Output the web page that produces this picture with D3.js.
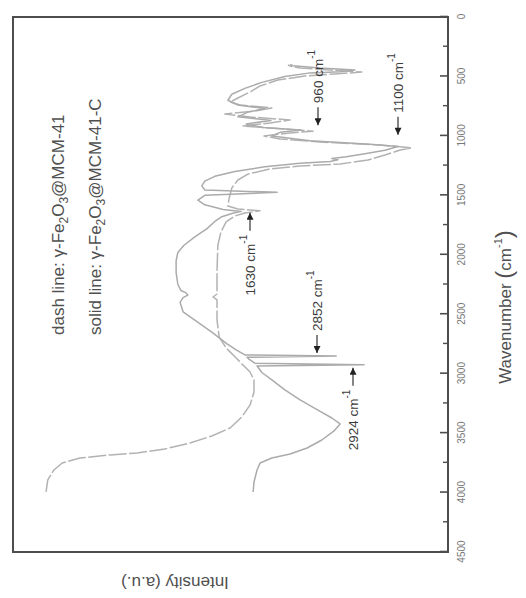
<!DOCTYPE html>
<html>
<head>
<meta charset="utf-8">
<script src="https://cdn.jsdelivr.net/npm/d3@7"></script>
<style>
  body { margin: 0; background: #fff; }
  svg { display: block; }
  text { font-family: "Liberation Sans", Arial, sans-serif; }
</style>
</head>
<body>
<script>
// FTIR spectra, wavenumber (cm^-1) vs. intensity (a.u.)
const majorTicks = [0, 500, 1000, 1500, 2000, 2500, 3000, 3500, 4000, 4500];
const minorTicks = [250, 750, 1250, 1750, 2250, 2750, 3250, 3750, 4250];

// γ-Fe2O3@MCM-41 (dashed)
const dashWn = [3995, 3894, 3810, 3751, 3709, 3684, 3667, 3633, 3583, 3524, 3457, 3364, 3263, 3154, 3053,
  2986, 2935, 2868, 2784, 2692, 2549, 2380, 2355, 2330, 2128, 1918, 1808, 1724, 1674, 1649, 1630, 1615,
  1590, 1522, 1438, 1371, 1321, 1278, 1253, 1236, 1203, 1161, 1119, 1100, 1077, 1051, 1026, 1001, 976,
  960, 934, 917, 892, 866, 841, 816, 791, 765, 740, 715, 681, 631, 580, 530, 496, 479, 463, 446, 429, 412, 404];
const dashVal = [92.4, 92.0, 90.6, 88.7, 84.6, 77.7, 71.5, 65.1, 59.3, 54.3, 50.1, 47.4, 45.5, 44.6, 44.6,
  45.5, 46.9, 48.7, 51.0, 52.6, 53.1, 53.1, 54.0, 53.1, 53.1, 52.9, 52.2, 51.0, 49.0, 46.7, 43.2, 48.3,
  50.6, 50.3, 49.7, 48.3, 46.0, 40.9, 34.0, 24.8, 18.4, 14.5, 11.0, 8.3, 15.6, 29.4, 38.6, 42.3, 36.3,
  31.0, 40.9, 47.1, 40.9, 36.3, 45.5, 51.3, 44.4, 40.5, 47.8, 50.1, 48.3, 45.5, 43.2, 39.1, 32.9, 26.0, 19.8, 27.1, 34.0, 36.3, 36.8];

// γ-Fe2O3@MCM-41-C (solid)
const solidWn = [3995, 3911, 3810, 3751, 3709, 3676, 3625, 3558, 3482, 3423, 3373, 3306, 3221, 3137, 3053,
  2990, 2944, 2935, 2924, 2912, 2880, 2862, 2852, 2842, 2800, 2750, 2650, 2550, 2480, 2400, 2360, 2340,
  2320, 2300, 2250, 2150, 2050, 1980, 1920, 1850, 1780, 1720, 1680, 1650, 1635, 1620, 1580, 1540, 1500,
  1475, 1455, 1420, 1380, 1340, 1300, 1260, 1230, 1215, 1200, 1190, 1175, 1150, 1120, 1090, 1070, 1040,
  1000, 970, 950, 930, 900, 870, 840, 800, 770, 740, 700, 650, 600, 550, 500, 470, 460, 445, 430, 410, 400];
const solidVal = [44.8, 44.6, 43.9, 43.2, 40.5, 36.3, 32.4, 29.0, 26.2, 24.8, 26.7, 29.9, 34.0, 37.5, 40.5,
  42.8, 43.7, 43.9, 19.3, 44.4, 45.7, 46.2, 25.7, 46.7, 48.7, 50.8, 54.3, 58.2, 60.9, 61.6, 60.9, 59.8,
  60.2, 61.4, 62.1, 62.5, 62.5, 62.1, 60.7, 58.2, 55.4, 53.6, 52.0, 49.5, 47.5, 51.7, 55.9, 57.5, 55.9,
  39.3, 55.9, 56.6, 55.9, 53.6, 49.0, 42.1, 34.0, 27.1, 25.3, 26.7, 23.4, 19.1, 14.5, 11.5, 17.9, 31.7,
  40.5, 38.6, 33.8, 42.5, 46.4, 40.7, 48.3, 46.0, 42.1, 48.3, 50.6, 49.7, 46.7, 42.8, 37.5, 31.7, 24.8, 21.4, 29.4, 35.6, 36.3];

// marked absorption bands
const bandLabels = [960, 1100, 1630, 2852, 2924];

const W = 526, H = 598;
const svg = d3.select("body").append("svg").attr("width", W).attr("height", H);

// the figure is laid out upright and then turned a quarter turn counter-clockwise
const fig = svg.append("g").attr("transform", `translate(0,${H}) rotate(-90)`);

const plotL = 46, plotR = 581, plotT = 13, plotB = 448;
const x = d3.scaleLinear().domain([4500, 0]).range([plotL, plotR]);
const y = d3.scaleLinear().domain([0, 100]).range([plotB, plotT]);

const axisColor = "#4d4d4d";
const textColor = "#505050";

// spectra
const line = d3.line().x(d => x(d[0])).y(d => y(d[1]));
fig.append("path")
  .datum(d3.zip(dashWn, dashVal))
  .attr("d", line)
  .attr("fill", "none")
  .attr("stroke", "#b2b2b2")
  .attr("stroke-width", 1.5)
  .attr("stroke-dasharray", "18,2.5")
  .attr("stroke-linejoin", "round");
fig.append("path")
  .datum(d3.zip(solidWn, solidVal))
  .attr("d", line)
  .attr("fill", "none")
  .attr("stroke", "#ababab")
  .attr("stroke-width", 1.5)
  .attr("stroke-linejoin", "round");

// frame
fig.append("rect")
  .attr("x", plotL).attr("y", plotT)
  .attr("width", plotR - plotL).attr("height", plotB - plotT)
  .attr("fill", "none").attr("stroke", axisColor).attr("stroke-width", 2);

// wavenumber axis, ticks pointing inward
const axMajor = fig.append("g").attr("transform", `translate(0,${plotB})`)
  .call(d3.axisBottom(x).tickValues(majorTicks).tickSize(-8).tickPadding(10).tickFormat(d3.format("d")));
axMajor.select(".domain").remove();
axMajor.selectAll("line").attr("stroke", axisColor).attr("stroke-width", 1.6);
axMajor.selectAll("text").attr("fill", "#777").attr("font-size", 10)
  .attr("font-family", "'Liberation Sans', Arial, sans-serif");

const axMinor = fig.append("g").attr("transform", `translate(0,${plotB})`)
  .call(d3.axisBottom(x).tickValues(minorTicks).tickSize(-5).tickFormat(""));
axMinor.select(".domain").remove();
axMinor.selectAll("line").attr("stroke", axisColor).attr("stroke-width", 1.4);

// axis titles
const xt = fig.append("text")
  .attr("x", 291).attr("y", 511)
  .attr("text-anchor", "middle")
  .attr("fill", textColor).attr("font-size", 17);
xt.append("tspan").text("Wavenumber ");
xt.append("tspan").attr("font-size", 24).attr("dy", 1).text("(");
xt.append("tspan").attr("dy", -1).text("cm");
xt.append("tspan").attr("font-size", 11).attr("dy", -9).text("-1");
xt.append("tspan").attr("font-size", 24).attr("dy", 10).text(")");

fig.append("text")
  .attr("transform", "translate(15,175) rotate(-90)")
  .attr("text-anchor", "middle")
  .attr("dy", "0.35em")
  .attr("fill", textColor).attr("font-size", 17)
  .text("Intensity (a.u.)");

// legend
function legendLine(prefix, suffix, v) {
  const t = fig.append("text").attr("x", 263).attr("y", v)
    .attr("fill", textColor).attr("font-size", 17);
  t.append("tspan").text(prefix + "γ-Fe");
  t.append("tspan").attr("font-size", 12).attr("dy", 4).text("2");
  t.append("tspan").attr("dy", -4).text("O");
  t.append("tspan").attr("font-size", 12).attr("dy", 4).text("3");
  t.append("tspan").attr("dy", -4).text(suffix);
}
legendLine("dash line: ", "@MCM-41", 64);
legendLine("solid line: ", "@MCM-41-C", 101);

// band annotations
const defs = svg.append("defs");
defs.append("marker")
  .attr("id", "head").attr("viewBox", "0 0 10 10")
  .attr("refX", 10).attr("refY", 5)
  .attr("markerWidth", 9).attr("markerHeight", 7)
  .attr("markerUnits", "userSpaceOnUse")
  .attr("orient", "auto")
  .append("path").attr("d", "M0,0 L10,5 L0,10 z").attr("fill", "#222");

// dir +1: label sits on the low-wavenumber side, arrow points toward higher wavenumber
const bandLayout = {
  960:  { dir: 1,  gap: 6,  v: 318 },
  1100: { dir: 1,  gap: 13, v: 398 },
  1630: { dir: -1, gap: 2,  v: 250 },
  2852: { dir: 1,  gap: 3,  v: 317 },
  2924: { dir: -1, gap: 3,  v: 353 }
};
bandLabels.forEach(wn => {
  const L = bandLayout[wn];
  const tip = x(wn) + L.dir * L.gap;
  const tail = tip + L.dir * 18;
  fig.append("line")
    .attr("x1", tail).attr("y1", L.v).attr("x2", tip).attr("y2", L.v)
    .attr("stroke", "#333").attr("stroke-width", 1.2)
    .attr("marker-end", "url(#head)");
  const t = fig.append("text")
    .attr("x", tail + L.dir * 4).attr("y", L.v + 4.5)
    .attr("text-anchor", L.dir > 0 ? "start" : "end")
    .attr("fill", "#3c3c3c").attr("font-size", 13.5);
  t.append("tspan").text(wn + " cm");
  t.append("tspan").attr("font-size", 10).attr("dy", -8).text("-1");
});
</script>
</body>
</html>
